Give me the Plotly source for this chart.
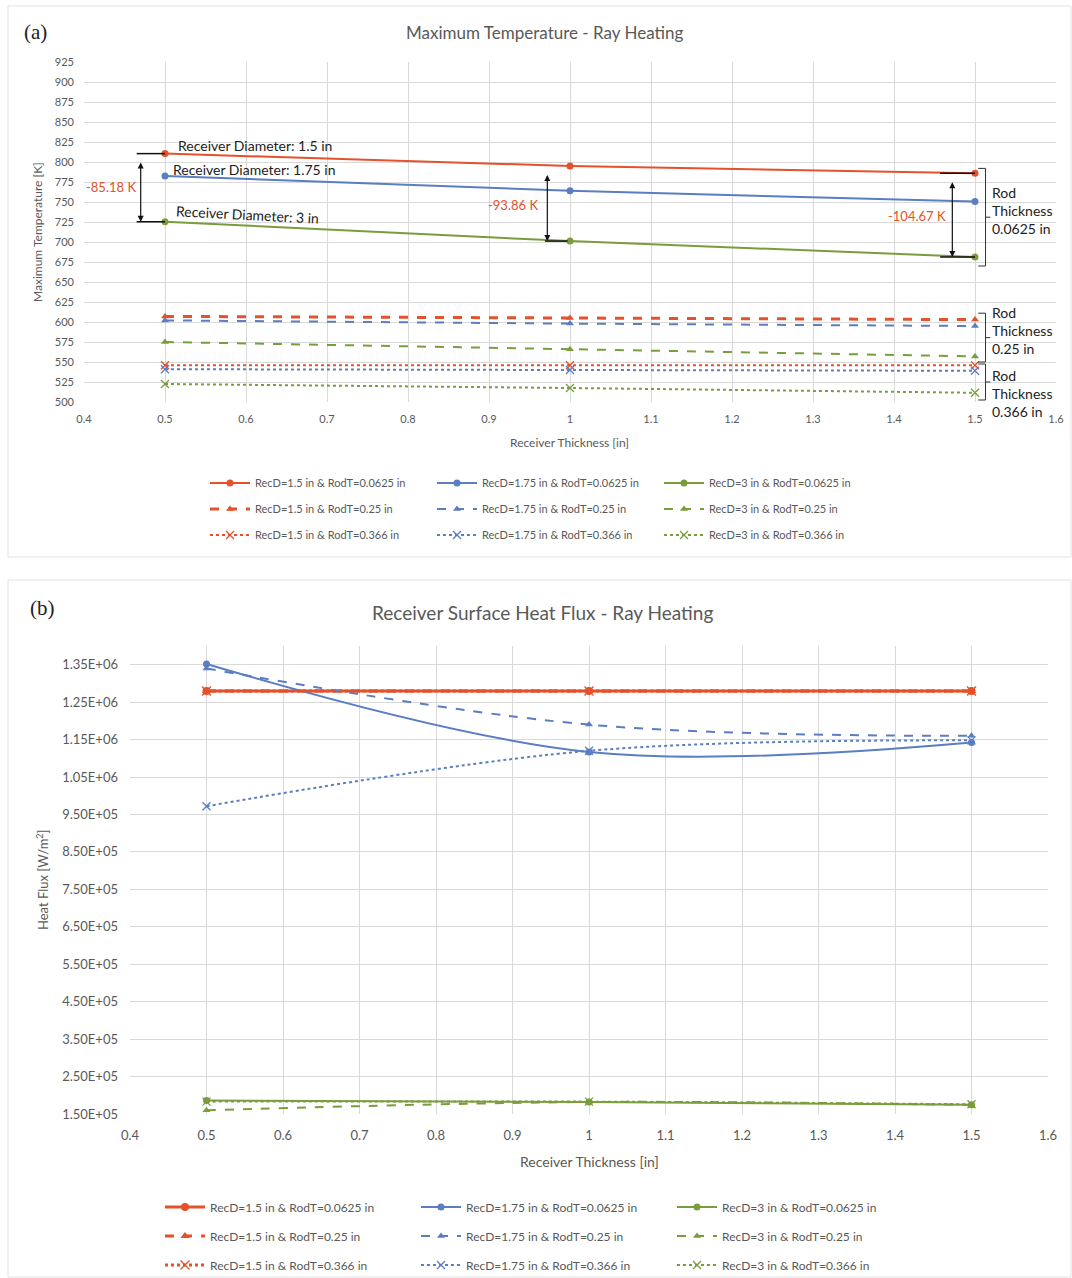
import plotly.graph_objects as go

# ---------------- data ----------------
thickness = [0.5, 1.0, 1.5]

# (a) Maximum temperature [K]
temp_d15_t0625 = [810.48, 795.00, 786.00]
temp_d175_t0625 = [782.5, 764.0, 750.5]
temp_d3_t0625 = [725.30, 701.14, 681.33]
temp_d15_t025 = [607.0, 605.0, 603.0]
temp_d175_t025 = [602.0, 598.0, 595.0]
temp_d3_t025 = [575.0, 566.0, 557.0]
temp_d15_t0366 = [546.0, 546.0, 546.0]
temp_d175_t0366 = [541.0, 540.0, 539.0]
temp_d3_t0366 = [522.5, 517.5, 511.5]

# (b) Receiver surface heat flux [W/m2]
flux_d15_t0625 = [1.28e6, 1.28e6, 1.28e6]
flux_d175_t0625 = [1.352e6, 1.117e6, 1.142e6]
flux_d3_t0625 = [1.86e5, 1.82e5, 1.75e5]
flux_d15_t025 = [1.28e6, 1.28e6, 1.28e6]
flux_d175_t025 = [1.34e6, 1.19e6, 1.16e6]
flux_d3_t025 = [1.60e5, 1.82e5, 1.74e5]
flux_d15_t0366 = [1.28e6, 1.28e6, 1.28e6]
flux_d175_t0366 = [9.72e5, 1.12e6, 1.148e6]
flux_d3_t0366 = [1.83e5, 1.83e5, 1.76e5]

series_names = [
    "RecD=1.5 in & RodT=0.0625 in", "RecD=1.75 in & RodT=0.0625 in", "RecD=3 in & RodT=0.0625 in",
    "RecD=1.5 in & RodT=0.25 in", "RecD=1.75 in & RodT=0.25 in", "RecD=3 in & RodT=0.25 in",
    "RecD=1.5 in & RodT=0.366 in", "RecD=1.75 in & RodT=0.366 in", "RecD=3 in & RodT=0.366 in",
]
temp_series = [temp_d15_t0625, temp_d175_t0625, temp_d3_t0625,
               temp_d15_t025, temp_d175_t025, temp_d3_t025,
               temp_d15_t0366, temp_d175_t0366, temp_d3_t0366]
flux_series = [flux_d15_t0625, flux_d175_t0625, flux_d3_t0625,
               flux_d15_t025, flux_d175_t025, flux_d3_t025,
               flux_d15_t0366, flux_d175_t0366, flux_d3_t0366]

temp_ticks = list(range(500, 926, 25))
flux_ticks = [1.5e5 + i * 1e5 for i in range(13)]
flux_ticktext = [f"{v:.2E}" for v in flux_ticks]

# ---------------- styles ----------------
RED = "#E4512B"
BLUE = "#5B7DC2"
GREEN = "#7A9D3C"
colors = [RED, BLUE, GREEN] * 3
dashes = ["solid"] * 3 + ["dash"] * 3 + ["dot"] * 3
symbols = ["circle"] * 3 + ["triangle-up"] * 3 + ["x-thin"] * 3
GRID = "#D9D9D9"
TXT = "#595959"
FONT = "Lato, 'Open Sans', sans-serif"

W, H = 1072, 1278
def px(xp):
    return xp / W
def py(yp):
    return 1 - yp / H

fig = go.Figure()

legends_a = ["legend", "legend2", "legend3"]
legends_b = ["legend4", "legend5", "legend6"]

def marker_for(i, size=7):
    if symbols[i] == "x-thin":
        return dict(symbol="x-thin", size=size + 1, color=colors[i], line=dict(width=1.3, color=colors[i]))
    return dict(symbol=symbols[i], size=size, color=colors[i])

for i, name in enumerate(series_names):
    w = 3 if (colors[i] == RED and dashes[i] == "dash") else 2
    fig.add_trace(go.Scatter(
        x=thickness, y=temp_series[i], name=name, mode="lines+markers",
        line=dict(color=colors[i], width=w, dash=dashes[i]), marker=marker_for(i),
        xaxis="x", yaxis="y", legend=legends_a[i // 3], cliponaxis=False,
    ))
for i, name in enumerate(series_names):
    w = 3 if colors[i] == RED else 2
    fig.add_trace(go.Scatter(
        x=thickness, y=flux_series[i], name=name, mode="lines+markers",
        line=dict(color=colors[i], width=w, dash=dashes[i], shape="spline"),
        marker=marker_for(i, 8 if colors[i] == RED else 7),
        xaxis="x2", yaxis="y2", legend=legends_b[i // 3], cliponaxis=False,
    ))

ann = []
shapes = []

# panel frames
shapes.append(dict(type="rect", xref="paper", yref="paper", x0=px(8), x1=px(1071),
                   y0=py(557), y1=py(6), line=dict(color="#E3E3E3", width=1)))
shapes.append(dict(type="rect", xref="paper", yref="paper", x0=px(8), x1=px(1071),
                   y0=py(1277), y1=py(580), line=dict(color="#E3E3E3", width=1)))

def pann(text, x, y, size, color=TXT, family=FONT, angle=0, xanchor="center"):
    ann.append(dict(text=text, x=px(x), y=py(y), xref="paper", yref="paper", xanchor=xanchor,
                    yanchor="middle", textangle=angle, showarrow=False,
                    font=dict(family=family, size=size, color=color)))

SERIF = "'Liberation Serif', 'DejaVu Serif', serif"
pann("(a)", 22, 32, 21, "#222", SERIF, xanchor="left")
pann("(b)", 28, 608, 21, "#222", SERIF, xanchor="left")
pann("Maximum Temperature - Ray Heating", 544, 32, 17)
pann("Receiver Surface Heat Flux - Ray Heating", 542, 612, 19)
pann("Maximum Temperature [K]", 38, 232, 12, angle=-90)
pann("Receiver Thickness [in]", 569, 442, 12)
pann("Heat Flux [W/m<sup>2</sup>]", 43, 880, 13, angle=-90)
pann("Receiver Thickness [in]", 589, 1161, 14)

# receiver diameter labels
lab_font = dict(family=FONT, size=14, color="#222")
ann.append(dict(text="Receiver Diameter: 1.5 in", x=0.513, y=temp_d15_t0625[0] + 10, xref="x", yref="y",
                xanchor="left", yanchor="middle", showarrow=False, font=lab_font))
ann.append(dict(text="Receiver Diameter: 1.75 in", x=0.507, y=temp_d175_t0625[0] + 8, xref="x", yref="y",
                xanchor="left", yanchor="middle", showarrow=False, font=lab_font))
ann.append(dict(text="Receiver Diameter: 3 in", x=0.511, y=temp_d3_t0625[0] + 9, xref="x", yref="y",
                xanchor="left", yanchor="middle", showarrow=False, textangle=3, font=lab_font))

# difference arrows
arrow_x = [0.470, 0.972, 1.472]
text_pos = [(0.433, 769), (0.930, 746), (1.428, 732)]
for k in range(3):
    top = temp_d15_t0625[k]
    bot = temp_d3_t0625[k]
    ann.append(dict(x=arrow_x[k], y=bot, ax=arrow_x[k], ay=top, xref="x", yref="y", axref="x", ayref="y",
                    showarrow=True, arrowhead=2, startarrowhead=2, arrowside="end+start",
                    arrowsize=1, arrowwidth=1.2, arrowcolor="#111", text=" "))
    ann.append(dict(text=f"-{top - bot:.2f} K", x=text_pos[k][0], y=text_pos[k][1], xref="x", yref="y",
                    yanchor="middle", showarrow=False, font=dict(family=FONT, size=13, color=RED)))
# horizontal ticks for arrows
for (x0, x1, yv) in [(0.465, 0.5, temp_d15_t0625[0]), (0.465, 0.5, temp_d3_t0625[0]),
                     (0.969, 0.997, temp_d3_t0625[1]),
                     (1.457, 1.5, temp_d15_t0625[2]), (1.457, 1.5, temp_d3_t0625[2])]:
    shapes.append(dict(type="line", xref="x", yref="y", x0=x0, x1=x1, y0=yv, y1=yv,
                       line=dict(color="#111", width=1.5)))

# rod thickness brackets
brackets = [(792, 670, "Rod<br>Thickness<br>0.0625 in", 740),
            (611, 550, "Rod<br>Thickness<br>0.25 in", 590),
            (547.5, 502.5, "Rod<br>Thickness<br>0.366 in", 511)]
for top, bot, txt, ty in brackets:
    mid = (top + bot) / 2
    shapes.append(dict(type="path", xref="x", yref="y",
                       path=f"M 1.504 {top} L 1.513 {top} L 1.513 {bot} L 1.504 {bot} M 1.513 {mid} L 1.519 {mid}",
                       line=dict(color="#333", width=1)))
    ann.append(dict(text=txt, x=1.519, y=ty, xref="x", yref="y", xanchor="left", yanchor="middle",
                    align="left", showarrow=False, font=dict(family=FONT, size=14, color="#222")))

axis_common = dict(showgrid=True, gridcolor=GRID, gridwidth=1, zeroline=False, automargin=False,
                   ticks="", showline=False)

leg_common = dict(orientation="h", xanchor="left", yanchor="middle", bgcolor="rgba(0,0,0,0)",
                  entrywidthmode="pixels", itemwidth=40, itemclick=False)

fig.update_layout(
    width=W, height=H,
    margin=dict(l=0, r=0, t=0, b=0, autoexpand=False),
    paper_bgcolor="white", plot_bgcolor="white",
    font=dict(family=FONT, color=TXT),
    xaxis=dict(domain=[px(84), px(1056)], range=[0.4, 1.6], dtick=0.1, tick0=0.4, anchor="y",
               tickfont=dict(size=11, color=TXT), ticklabelstandoff=9, **axis_common),
    yaxis=dict(domain=[py(402), py(62)], range=[500, 925], tickvals=temp_ticks, anchor="x",
               tickfont=dict(size=11, color=TXT), ticklabelstandoff=9, **axis_common),
    xaxis2=dict(domain=[px(130), px(1048)], range=[0.4, 1.6], dtick=0.1, tick0=0.4, anchor="y2",
                tickfont=dict(size=13, color=TXT), ticklabelstandoff=12, **axis_common),
    yaxis2=dict(domain=[py(1114), py(646)], range=[1.5e5, 1.4e6], tickvals=flux_ticks,
                ticktext=flux_ticktext, anchor="x2", tickfont=dict(size=13, color=TXT),
                ticklabelstandoff=11, **axis_common),
    legend=dict(x=px(205), y=py(483), entrywidth=172, font=dict(size=11, color=TXT), **leg_common),
    legend2=dict(x=px(205), y=py(509), entrywidth=172, font=dict(size=11, color=TXT), **leg_common),
    legend3=dict(x=px(205), y=py(535), entrywidth=172, font=dict(size=11, color=TXT), **leg_common),
    legend4=dict(x=px(160), y=py(1207), entrywidth=201, font=dict(size=12, color=TXT), **leg_common),
    legend5=dict(x=px(160), y=py(1236), entrywidth=201, font=dict(size=12, color=TXT), **leg_common),
    legend6=dict(x=px(160), y=py(1265), entrywidth=201, font=dict(size=12, color=TXT), **leg_common),
    annotations=ann,
    shapes=shapes,
    showlegend=True,
)

fig.write_html("out.html")
